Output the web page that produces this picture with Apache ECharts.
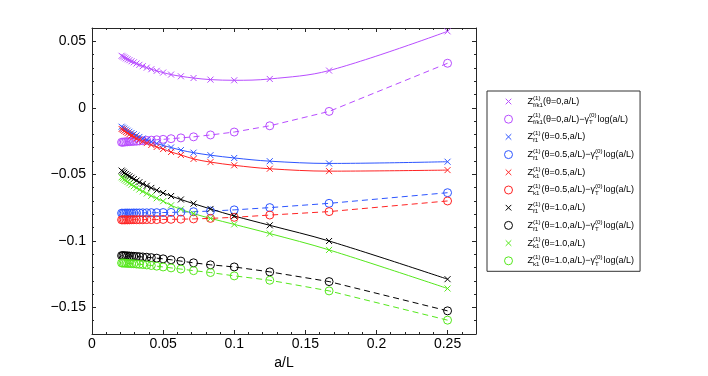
<!DOCTYPE html>
<html>
<head>
<meta charset="utf-8">
<script src="https://cdn.jsdelivr.net/npm/echarts@6/dist/echarts.min.js"></script>
<style>
html,body{margin:0;padding:0;background:#fff;}
#chart{width:708px;height:376px;}
</style>
</head>
<body>
<div id="chart"></div>
<script>
// a/L values (L = 4,6,...,48)
var aL = [0.25, 0.1667, 0.125, 0.1, 0.0833, 0.0714, 0.0625, 0.0556, 0.05, 0.0455, 0.0417, 0.0385,
          0.0357, 0.0333, 0.0313, 0.0294, 0.0278, 0.0263, 0.025, 0.0238, 0.0227, 0.0217, 0.0208];

// theta = 0
var zfk1_t0 = [0.0575, 0.0280, 0.0217, 0.0207, 0.0212, 0.0224, 0.0237, 0.0250, 0.0265, 0.0278, 0.0290, 0.0302,
               0.0313, 0.0323, 0.0333, 0.0342, 0.0350, 0.0358, 0.0365, 0.0372, 0.0379, 0.0385, 0.0391];
var zfk1_t0_sub = [0.0335, -0.0027, -0.0135, -0.0182, -0.0204, -0.0218, -0.0226, -0.0232, -0.0237, -0.0240, -0.0243, -0.0245,
                   -0.0247, -0.0249, -0.0251, -0.0252, -0.0253, -0.0254, -0.0255, -0.0256, -0.0257, -0.0258, -0.0259];
// theta = 0.5
var zf1_t05 = [-0.0405, -0.0418, -0.0401, -0.0377, -0.0356, -0.0337, -0.0318, -0.0298, -0.0283, -0.0268, -0.0255, -0.0242,
               -0.0230, -0.0219, -0.0208, -0.0198, -0.0189, -0.0180, -0.0172, -0.0164, -0.0156, -0.0149, -0.0142];
var zf1_t05_sub = [-0.0638, -0.0718, -0.0750, -0.0767, -0.0776, -0.0781, -0.0784, -0.0786, -0.0787, -0.0788, -0.0788, -0.0789,
                   -0.0789, -0.0790, -0.0790, -0.0790, -0.0791, -0.0791, -0.0791, -0.0791, -0.0792, -0.0792, -0.0792];
var zk1_t05 = [-0.0468, -0.0476, -0.0458, -0.0432, -0.0408, -0.0384, -0.0354, -0.0332, -0.0310, -0.0294, -0.0279, -0.0265,
               -0.0252, -0.0240, -0.0229, -0.0218, -0.0208, -0.0199, -0.0190, -0.0182, -0.0174, -0.0166, -0.0159];
var zk1_t05_sub = [-0.0700, -0.0780, -0.0806, -0.0823, -0.0831, -0.0835, -0.0837, -0.0838, -0.0839, -0.0840, -0.0840, -0.0840,
                   -0.0841, -0.0841, -0.0841, -0.0841, -0.0841, -0.0842, -0.0842, -0.0842, -0.0842, -0.0842, -0.0842];
// theta = 1.0
var zf1_t1 = [-0.1288, -0.1001, -0.0883, -0.0813, -0.0760, -0.0720, -0.0689, -0.0663, -0.0640, -0.0620, -0.0602, -0.0586,
              -0.0572, -0.0559, -0.0547, -0.0536, -0.0525, -0.0515, -0.0506, -0.0497, -0.0488, -0.0480, -0.0472];
var zf1_t1_sub = [-0.1526, -0.1306, -0.1233, -0.1196, -0.1180, -0.1165, -0.1152, -0.1142, -0.1135, -0.1130, -0.1126, -0.1123,
                  -0.1121, -0.1119, -0.1117, -0.1116, -0.1115, -0.1114, -0.1113, -0.1112, -0.1112, -0.1111, -0.1111];
var zk1_t1 = [-0.1358, -0.1068, -0.0945, -0.0876, -0.0831, -0.0795, -0.0763, -0.0733, -0.0702, -0.0680, -0.0661, -0.0644,
              -0.0628, -0.0614, -0.0601, -0.0589, -0.0578, -0.0567, -0.0557, -0.0548, -0.0539, -0.0530, -0.0522];
var zk1_t1_sub = [-0.1596, -0.1376, -0.1296, -0.1263, -0.1238, -0.1224, -0.1212, -0.1203, -0.1196, -0.1190, -0.1185, -0.1181,
                  -0.1178, -0.1176, -0.1174, -0.1172, -0.1171, -0.1170, -0.1169, -0.1168, -0.1167, -0.1167, -0.1166];

var seriesNames = ['fk1_t0', 'fk1_t0_sub', 'f1_t05', 'f1_t05_sub', 'k1_t05', 'k1_t05_sub',
                   'f1_t1', 'f1_t1_sub', 'k1_t1', 'k1_t1_sub'];
var seriesData = [zfk1_t0, zfk1_t0_sub, zf1_t05, zf1_t05_sub, zk1_t05, zk1_t05_sub,
                  zf1_t1, zf1_t1_sub, zk1_t1, zk1_t1_sub];
var seriesColors = ['#b84dff', '#b84dff', '#2d55ff', '#2d55ff', '#ff2424', '#ff2424',
                    '#000000', '#000000', '#55e81c', '#55e81c'];
var legendLabels = [
    '{z|Z}{p|(1)}{bw|f/k1}{z|(θ=0,a/L)}',
    '{z|Z}{p|(1)}{bw|f/k1}{z|(θ=0,a/L)−γ}{p|(0)}{b|T}{z|log(a/L)}',
    '{z|Z}{p|(1)}{b|f1}{z|(θ=0.5,a/L)}',
    '{z|Z}{p|(1)}{b|f1}{z|(θ=0.5,a/L)−γ}{p|(0)}{b|T}{z|log(a/L)}',
    '{z|Z}{p|(1)}{b|k1}{z|(θ=0.5,a/L)}',
    '{z|Z}{p|(1)}{b|k1}{z|(θ=0.5,a/L)−γ}{p|(0)}{b|T}{z|log(a/L)}',
    '{z|Z}{p|(1)}{b|f1}{z|(θ=1.0,a/L)}',
    '{z|Z}{p|(1)}{b|f1}{z|(θ=1.0,a/L)−γ}{p|(0)}{b|T}{z|log(a/L)}',
    '{z|Z}{p|(1)}{b|k1}{z|(θ=1.0,a/L)}',
    '{z|Z}{p|(1)}{b|k1}{z|(θ=1.0,a/L)−γ}{p|(0)}{b|T}{z|log(a/L)}'
];

var FONT = '"Liberation Sans", Arial, Helvetica, sans-serif';
var CROSS = 'path://M0,0L10,10M10,0L0,10';
var CROSS_LEGEND = 'path://M0,0M10,10M1.5,1.5L8.5,8.5M8.5,1.5L1.5,8.5';
var CIRCLE = 'circle';

function tickLabel(v) {
    return String(+v.toFixed(2)).replace('-', '\u2212');
}

var series = [];
var legendData = [];
seriesNames.forEach(function (name, i) {
    var isSub = i % 2 === 1;
    var c = seriesColors[i];
    var pts = aL.map(function (x, k) { return [x, seriesData[i][k]]; });
    series.push({
        name: name,
        type: 'line',
        data: pts,
        xAxisIndex: 0,
        yAxisIndex: 0,
        smooth: isSub ? false : 0.35,
        symbol: isSub ? CIRCLE : CROSS,
        symbolSize: isSub ? 8 : 6,
        itemStyle: { color: 'none', borderColor: c, borderWidth: 1 },
        lineStyle: { color: c, width: 1, type: isSub ? [6, 4] : 'solid' },
        emphasis: { disabled: true },
        animation: false
    });
    legendData.push({
        name: name,
        icon: isSub ? CIRCLE : CROSS_LEGEND,
        itemStyle: { color: 'none', borderColor: c, borderWidth: 1 }
    });
});

var axisLineStyle = { color: '#262626', width: 1 };

function boxAxis(pos, min, max, extra) {
    var ax = {
        type: 'value', min: min, max: max, position: pos,
        axisLine: { show: true, onZero: false, lineStyle: axisLineStyle },
        axisTick: { show: true, inside: true, length: 4, lineStyle: axisLineStyle },
        minorTick: { show: true, splitNumber: 5, length: 2, lineStyle: axisLineStyle },
        axisLabel: { show: false },
        splitLine: { show: false }
    };
    for (var k in extra) ax[k] = extra[k];
    return ax;
}

var option = {
    animation: false,
    backgroundColor: '#fff',
    grid: { left: 92, right: 232, top: 28, bottom: 42, containLabel: false },
    legend: {
        orient: 'vertical',
        left: 487,
        top: 91,
        padding: [4, 6, 4, 15],
        itemWidth: 28,
        itemHeight: 8,
        itemGap: 4.7,
        borderColor: '#333',
        borderWidth: 1,
        selectedMode: false,
        data: legendData,
        formatter: function (name) {
            return legendLabels[seriesNames.indexOf(name)];
        },
        textStyle: {
            color: '#000',
            fontFamily: FONT,
            fontSize: 9,
            rich: {
                z: { fontFamily: FONT, fontSize: 9, lineHeight: 13, color: '#000' },
                p: { fontFamily: FONT, fontSize: 6.2, verticalAlign: 'top', width: 0, color: '#000' },
                b: { fontFamily: FONT, fontSize: 6.2, verticalAlign: 'bottom', width: 8.5, color: '#000' },
                bw: { fontFamily: FONT, fontSize: 6.2, verticalAlign: 'bottom', color: '#000' }
            }
        }
    },
    xAxis: [
        boxAxis('bottom', 0, 0.27, {
            name: 'a/L', nameLocation: 'middle', nameGap: 10,
            nameTextStyle: { fontFamily: FONT, fontSize: 14, color: '#000' },
            axisLabel: { fontFamily: FONT, fontSize: 14, color: '#000', margin: 3,
                         showMaxLabel: false, formatter: tickLabel }
        }),
        boxAxis('top', 0, 0.27, {})
    ],
    yAxis: [
        boxAxis('left', -0.17, 0.06, {
            axisLabel: { fontFamily: FONT, fontSize: 14, color: '#000', margin: 6,
                         showMinLabel: false, showMaxLabel: false, formatter: tickLabel }
        }),
        boxAxis('right', -0.17, 0.06, {})
    ],
    series: series
};

var myChart = echarts.init(document.getElementById('chart'), null, { renderer: 'canvas' });
myChart.setOption(option);
</script>
</body>
</html>
